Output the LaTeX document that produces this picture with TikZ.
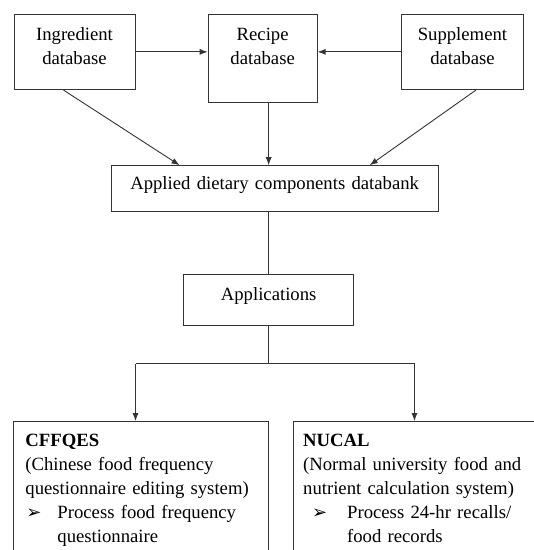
\documentclass[tikz,border=0pt]{standalone}
\usepackage{fontspec}
\setmainfont{Liberation Serif}
\newfontfamily\symfont{DejaVu Sans}
\usetikzlibrary{arrows.meta,calc}

\newcommand{\marca}{{\symfont\fontsize{18pt}{18pt}\selectfont ➢}}

\begin{document}
\begin{tikzpicture}[x=1pt,y=-1pt,line width=0.9pt,
  caixa/.style={draw=black!80,inner xsep=0pt,inner ysep=0pt,align=center,anchor=north west,
    font=\fontsize{18.7pt}{24pt}\selectfont},
  caixatexto/.style={caixa,align=left,text height=25pt,text depth=200pt},
  linha/.style={draw=black!80},
  seta/.style={linha,-{Latex[length=8pt,width=6pt]}}]
  \useasboundingbox (0,0) rectangle (534,550);
  \clip (0,0) rectangle (534,550);
  %bancos de dados
  \node[caixa,text width=120.9pt,text height=26.6pt,text depth=49pt] (ingr) at (13.6,13.6) {Ingredient\\database};
  \node[caixa,text width=109pt,text height=26.6pt,text depth=61.3pt] (recipe) at (207.7,13.6) {Recipe\\database};
  \node[caixa,text width=121.6pt,text height=26.6pt,text depth=49pt] (suppl) at (401.2,13.6) {Supplement\\database};
  \node[caixa,text width=327pt,text height=23.8pt,text depth=22.3pt] (databank) at (110.7,165.2) {Applied dietary components databank};
  \node[caixa,text width=170pt,text height=25.6pt,text depth=25.5pt] (apps) at (183.2,274.3) {Applications};
  %aplicativos
  \node[caixatexto,inner xsep=12pt,text width=231pt] (cffqes) at (13,421) {\textbf{CFFQES}\\(Chinese food frequency\\questionnaire editing system)\\\hspace*{1pt}\makebox[31pt][l]{\marca}Process food frequency\\\hspace*{32pt}questionnaire};
  \node[caixatexto,inner xsep=10pt,text width=235pt] (nucal) at (292.7,421) {\textbf{NUCAL}\\(Normal university food and\\nutrient calculation system)\\\hspace*{9pt}\makebox[35pt][l]{\marca}Process 24-hr recalls/\\\hspace*{44pt}food records};
  %setas
  \draw[seta] (ingr.east) -- (ingr.east -| recipe.west);
  \draw[seta] (suppl.west) -- (suppl.west -| recipe.east);
  \draw[seta] ($(ingr.south west)!0.41!(ingr.south east)$) -- ($(databank.north west)!0.21!(databank.north east)$);
  \draw[seta] (recipe.south -| apps.north) -- (databank.north -| apps.north);
  \draw[seta] ($(suppl.south west)!0.61!(suppl.south east)$) -- ($(databank.north west)!0.79!(databank.north east)$);
  \draw[linha] (databank.south -| apps.north) -- (apps.north);
  \coordinate (esq) at (135.5,363.9);
  \coordinate (dir) at (414.5,363.9);
  \draw[linha] (apps.south) -- (apps.south |- esq);
  \draw[linha] (esq) -- (dir);
  \draw[seta] (esq) -- (esq |- cffqes.north);
  \draw[seta] (dir) -- (dir |- nucal.north);
\end{tikzpicture}
\end{document}
